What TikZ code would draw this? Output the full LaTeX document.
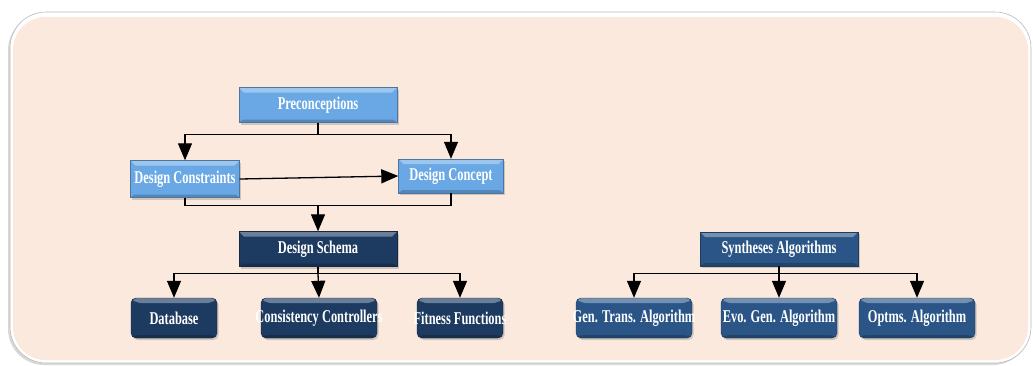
\documentclass[tikz,border=0pt]{standalone}
\usepackage{fontspec}
\newfontfamily\boxfont[FakeStretch=0.69]{Liberation Serif}
\usetikzlibrary{arrows.meta,shadows}

\definecolor{panelfill}{HTML}{FBE9DD}
\definecolor{lightblue}{HTML}{69A8E5}
\definecolor{navy}{HTML}{1D3A60}
\definecolor{steel}{HTML}{2A5586}

\tikzstyle{block} = [rectangle, text=white, inner sep=0pt, line width=0.4pt,
    font=\boxfont\bfseries\fontsize{18pt}{20pt}\selectfont,
    drop shadow={shadow xshift=1.5pt, shadow yshift=-2pt, opacity=0.35},
    path picture={
        \fill [white, opacity=0.35] (path picture bounding box.north west)
            -- (path picture bounding box.north east)
            -- ([xshift=-5pt, yshift=-5pt]path picture bounding box.north east)
            -- ([xshift=5pt, yshift=-5pt]path picture bounding box.north west) -- cycle;
        \fill [black, opacity=0.2] (path picture bounding box.south west)
            -- (path picture bounding box.south east)
            -- ([xshift=-4pt, yshift=3pt]path picture bounding box.south east)
            -- ([xshift=4pt, yshift=3pt]path picture bounding box.south west) -- cycle;
    }]
\tikzstyle{light} = [block, fill=lightblue, draw=lightblue!70!black]
\tikzstyle{dark} = [block, fill=navy, draw=navy!70!black]
\tikzstyle{steelbox} = [block, fill=steel, draw=steel!70!black]
\tikzstyle{leaf} = [minimum width=116pt, minimum height=40pt, rounded corners=5pt]
\tikzstyle{line} = [draw, line width=1.3pt, -{Triangle[width=14pt,length=17pt]}]
\tikzstyle{link} = [draw, line width=1.3pt]

\begin{document}
\begin{tikzpicture}[x=1pt, y=-1pt]
    \useasboundingbox (0,0) rectangle (1033,365);
    % background panel
    \path [fill=white, draw=gray!55, line width=0.6pt, rounded corners=36pt,
        drop shadow={shadow xshift=-2pt, shadow yshift=-2pt, opacity=0.3}] (10,12) rectangle (1031,363);
    \path [fill=panelfill, rounded corners=33pt] (13,17) rectangle (1028,360);

    % design side
    \node [light, minimum width=158pt, minimum height=35pt] (Pre) at (318,105) {Preconceptions};
    \node [light, minimum width=109pt, minimum height=37pt] (Cons) at (185,179) {Design Constraints};
    \node [light, minimum width=105pt, minimum height=34pt] (Conc) at (451,176) {Design Concept};
    \node [dark, minimum width=158pt, minimum height=35pt] (Schema) at (318,249) {Design Schema};
    \node [dark, leaf, minimum width=86pt] (DB) at (174,318) {Database};
    \node [dark, leaf] (CC) at (319,318) {\makebox[0pt]{Consistency Controllers}};
    \node [dark, leaf, minimum width=86pt] (FF) at (460,318) {\makebox[0pt]{Fitness Functions}};

    % synthesis side
    \node [steelbox, minimum width=158pt, minimum height=34pt] (Syn) at (779,249) {Syntheses Algorithms};
    \node [steelbox, leaf] (GT) at (634,318) {\makebox[0pt]{Gen. Trans. Algorithm}};
    \node [steelbox, leaf] (EG) at (779,318) {Evo. Gen. Algorithm};
    \node [steelbox, leaf] (OA) at (917,318) {Optms. Algorithm};

    \path [link] (Pre.south) -- ++(0,12) coordinate (preJ);
    \path [line] (preJ) -| (Cons.north);
    \path [line] (preJ) -| (Conc.north);
    \path [line] (Cons.east) -- (Conc.west);
    \path [link] (Cons.south) -- ++(0,8) coordinate (consJ) -| (Conc.south);
    \path [line] (consJ -| Schema.north) -- (Schema.north);

    \path [link] (Schema.south) -- ++(0,7) coordinate (schJ);
    \path [line] (schJ) -| (DB.north);
    \path [line] (schJ) -- (CC.north);
    \path [line] (schJ) -| (FF.north);

    \path [link] (Syn.south) -- ++(0,7) coordinate (synJ);
    \path [line] (synJ) -| (GT.north);
    \path [line] (synJ) -- (EG.north);
    \path [line] (synJ) -| (OA.north);
\end{tikzpicture}
\end{document}
